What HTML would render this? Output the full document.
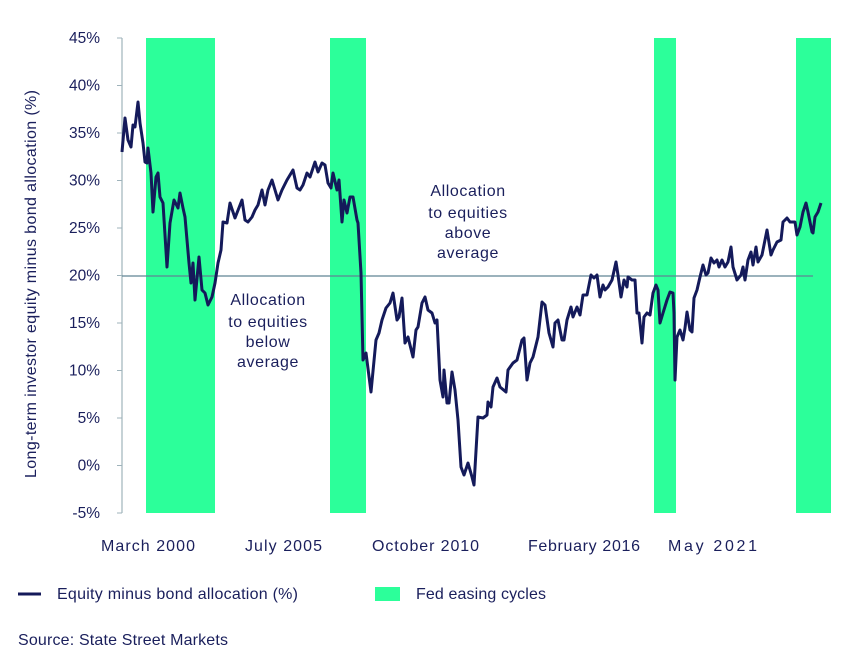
<!DOCTYPE html>
<html><head><meta charset="utf-8"><style>
body{margin:0;background:#fff;}
svg{display:block;font-family:"Liberation Sans",sans-serif;}
</style></head><body>
<svg width="854" height="659" viewBox="0 0 854 659">
<g fill="#2cff9a">
<rect x="146" y="38" width="69" height="475"/>
<rect x="330" y="38" width="36" height="475"/>
<rect x="654" y="38" width="22" height="475"/>
<rect x="796" y="38" width="35" height="475"/>
</g>
<line x1="122" y1="38" x2="122" y2="513" stroke="#9fb3bb" stroke-width="1.2"/>
<g stroke="#9fb3bb" stroke-width="1">
<line x1="117" y1="38" x2="122" y2="38"/><line x1="117" y1="85.5" x2="122" y2="85.5"/><line x1="117" y1="133" x2="122" y2="133"/><line x1="117" y1="180.5" x2="122" y2="180.5"/><line x1="117" y1="228" x2="122" y2="228"/><line x1="117" y1="275.5" x2="122" y2="275.5"/><line x1="117" y1="323" x2="122" y2="323"/><line x1="117" y1="370.5" x2="122" y2="370.5"/><line x1="117" y1="418" x2="122" y2="418"/><line x1="117" y1="465.5" x2="122" y2="465.5"/><line x1="117" y1="513" x2="122" y2="513"/>
</g>
<line x1="122" y1="276" x2="813" y2="276" stroke="#5f8595" stroke-width="1.3"/>
<polyline fill="none" stroke="#141a5a" stroke-width="3" stroke-linejoin="round" points="122,152 125,118 128,140 131,147 133,125 135,127 138,102 140,123 143,143 145,162 147,163 148,148 151,173 153,212 156,177 158,173 160,197 163,203 167,267 170,223 174,200 178,208 180,193 183,208 185,217 189,263 191,283 193,263 195,300 199,257 202,290 205,293 208,305 212,297 215,283 218,263 221,250 223,222 227,223 230,203 235,218 242,200 245,220 248,222 252,217 255,210 258,205 262,190 265,205 268,190 272,180 275,190 278,200 282,190 287,180 293,170 297,188 300,190 303,185 307,173 310,177 315,162 318,172 322,163 325,165 328,183 331,188 333,173 337,190 339,180 342,222 344,200 347,213 350,197 353,197 357,220 358,223 361,273 363,360 366,353 371,392 376,340 379,333 382,320 386,308 390,303 393,293 397,320 399,317 402,298 405,343 408,337 413,357 416,330 418,327 422,303 425,297 428,310 432,313 435,323 437,320 440,380 443,397 444,370 447,403 449,403 452,372 455,390 458,420 461,467 464,475 468,463 472,477 474,485 478,417 483,418 487,415 488,402 491,407 493,387 497,378 500,387 506,392 508,370 513,363 517,360 522,340 524,338 527,380 530,363 533,357 538,337 542,302 545,305 549,333 553,347 555,323 558,320 562,340 564,340 567,320 571,307 573,317 577,307 580,315 583,295 587,295 591,275 594,278 597,275 600,297 603,285 605,290 608,287 612,280 616,262 618,275 621,297 624,280 627,287 628,277 632,280 635,280 637,313 639,313 642,343 644,317 647,313 650,315 653,293 656,285 658,290 660,323 663,313 667,300 670,292 673,293 674,313 675,380 677,337 680,330 683,340 685,328 687,312 690,330 692,332 694,298 697,290 700,277 703,265 706,275 708,273 711,258 714,263 717,260 719,267 722,260 725,267 728,262 731,247 733,267 737,280 741,275 743,267 745,280 748,260 751,252 753,265 756,247 758,262 762,255 767,230 771,255 773,250 777,242 781,240 783,222 787,218 790,222 795,222 797,235 800,227 803,212 806,203 808,212 812,232 813,233 815,217 818,212 821,203"/>
<g fill="#1a1f5c" font-size="15.5" text-anchor="end">
<text x="100" y="43">45%</text><text x="100" y="90.5">40%</text><text x="100" y="138">35%</text><text x="100" y="185.5">30%</text><text x="100" y="233">25%</text><text x="100" y="280.5">20%</text><text x="100" y="328">15%</text><text x="100" y="375.5">10%</text><text x="100" y="423">5%</text><text x="100" y="470.5">0%</text><text x="100" y="518">-5%</text>
</g>
<text transform="translate(36,284) rotate(-90)" text-anchor="middle" fill="#1a1f5c" font-size="16" textLength="388" lengthAdjust="spacing">Long-term investor equity minus bond allocation (%)</text>
<g fill="#1a1f5c" font-size="16" text-anchor="middle">
<text x="148" y="551" textLength="94" lengthAdjust="spacing">March 2000</text>
<text x="283.5" y="551" textLength="77" lengthAdjust="spacing">July 2005</text>
<text x="425.5" y="551" textLength="107" lengthAdjust="spacing">October 2010</text>
<text x="584" y="551" textLength="112" lengthAdjust="spacing">February 2016</text>
<text x="712.5" y="551" textLength="89" lengthAdjust="spacing">May 2021</text>
</g>
<g fill="#1a1f5c" font-size="16" text-anchor="middle" letter-spacing="0.6">
<text x="268" y="305">Allocation</text><text x="268" y="327">to equities</text><text x="268" y="347">below</text><text x="268" y="367">average</text>
<text x="468" y="196">Allocation</text><text x="468" y="218">to equities</text><text x="468" y="238">above</text><text x="468" y="258">average</text>
</g>
<line x1="18" y1="594" x2="41" y2="594" stroke="#141a5a" stroke-width="3"/>
<text x="57" y="599" fill="#1a1f5c" font-size="16" textLength="241" lengthAdjust="spacing">Equity minus bond allocation (%)</text>
<rect x="375" y="587" width="25" height="14" fill="#2cff9a"/>
<text x="416" y="599" fill="#1a1f5c" font-size="16" textLength="130" lengthAdjust="spacing">Fed easing cycles</text>
<text x="18" y="645" fill="#1a1f5c" font-size="16" textLength="210" lengthAdjust="spacing">Source: State Street Markets</text>
</svg>
</body></html>
